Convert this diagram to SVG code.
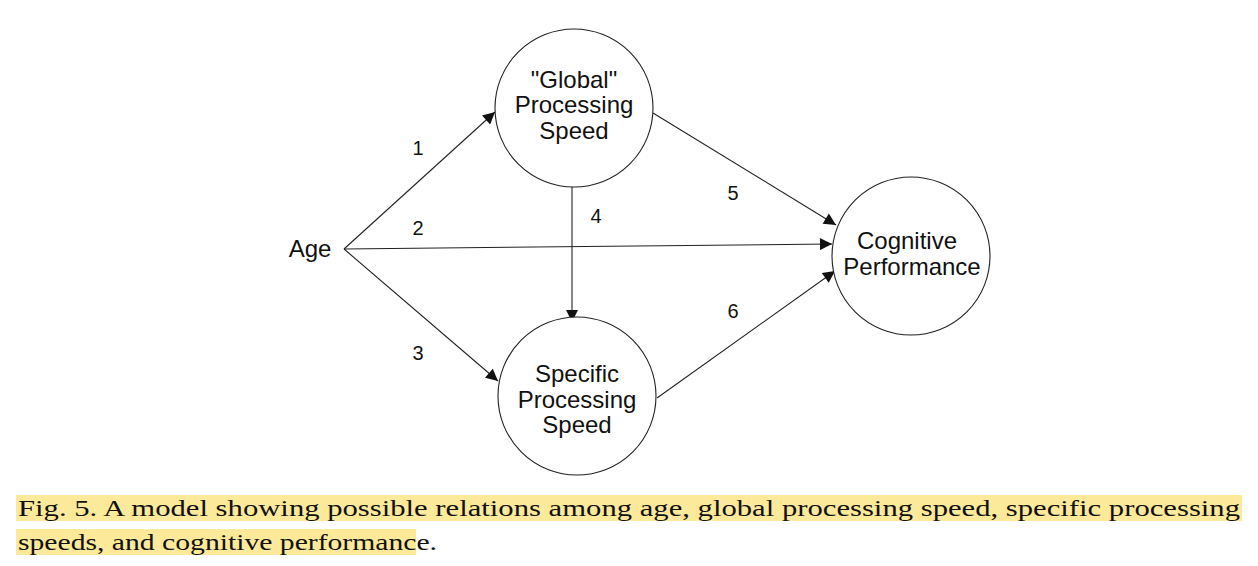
<svg xmlns="http://www.w3.org/2000/svg" width="1258" height="566" viewBox="0 0 1258 566">
<style>
.node{fill:#fff;stroke:#222;stroke-width:1.1}
.lbl{font-family:"Liberation Sans",Arial,sans-serif;font-size:24px;fill:#111;text-anchor:middle}
.num{font-family:"Liberation Sans",Arial,sans-serif;font-size:20px;fill:#111;text-anchor:middle}
.cap{font-family:"Liberation Serif","Times New Roman",serif;font-size:24px;fill:#111}
.edge{stroke:#222;stroke-width:1.1;fill:none}
</style>
<defs>
<marker id="ah" viewBox="0 0 10 10" refX="10" refY="5" markerWidth="21" markerHeight="12" markerUnits="userSpaceOnUse" orient="auto">
<path d="M0,0 L10,5 L0,10 z" fill="#111"/>
</marker>
</defs>
<rect width="1258" height="566" fill="#fff"/>
<g id="caption-bg">
<rect x="16" y="495" width="1226" height="26" fill="#fde99a"/>
<rect x="16" y="529" width="400" height="26" fill="#fde99a"/>
</g>
<g id="connectors">
<line class="edge" x1="344" y1="249" x2="495" y2="112" marker-end="url(#ah)"/>
<line class="edge" x1="344" y1="249" x2="832" y2="244" marker-end="url(#ah)"/>
<line class="edge" x1="344" y1="249" x2="498" y2="381" marker-end="url(#ah)"/>
<line class="edge" x1="572" y1="187" x2="572" y2="322" marker-end="url(#ah)"/>
<line class="edge" x1="653" y1="113" x2="836" y2="225" marker-end="url(#ah)"/>
<line class="edge" x1="657" y1="398" x2="835" y2="271" marker-end="url(#ah)"/>
<text class="num" x="418" y="155">1</text>
<text class="num" x="418" y="235">2</text>
<text class="num" x="418" y="360">3</text>
<text class="num" x="596" y="223">4</text>
<text class="num" x="733" y="200">5</text>
<text class="num" x="733" y="318">6</text>
</g>
<g id="age"><text class="lbl" x="310" y="257">Age</text></g>
<g id="global">
<circle class="node" cx="574" cy="108" r="79"/>
<text class="lbl" x="574" y="88">"Global"</text>
<text class="lbl" x="574" y="113">Processing</text>
<text class="lbl" x="574" y="139">Speed</text>
</g>
<g id="specific">
<circle class="node" cx="577" cy="396" r="79"/>
<text class="lbl" x="577" y="382">Specific</text>
<text class="lbl" x="577" y="408">Processing</text>
<text class="lbl" x="577" y="433">Speed</text>
</g>
<g id="cognitive">
<circle class="node" cx="911" cy="256" r="79"/>
<text class="lbl" x="907" y="249">Cognitive</text>
<text class="lbl" x="912" y="275">Performance</text>
</g>
<g id="caption">
<text class="cap" x="18" y="516" textLength="1222" lengthAdjust="spacingAndGlyphs">Fig. 5. A model showing possible relations among age, global processing speed, specific processing</text>
<text class="cap" x="18" y="550" textLength="419" lengthAdjust="spacingAndGlyphs">speeds, and cognitive performance.</text>
</g>
</svg>
